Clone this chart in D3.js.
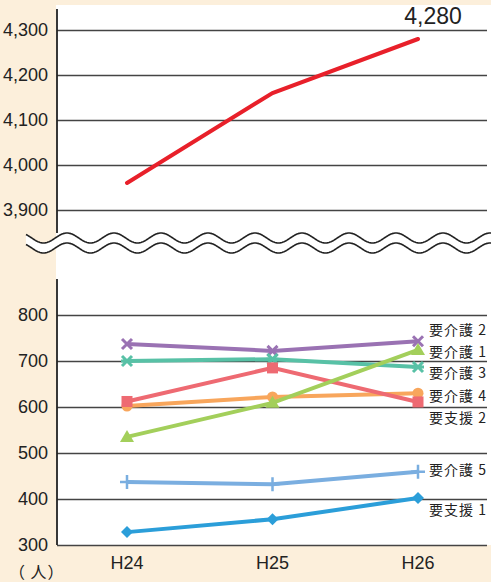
<!DOCTYPE html>
<html><head><meta charset="utf-8">
<script src="https://cdn.jsdelivr.net/npm/d3@7"></script>
<style>body{margin:0;background:#fcefdb}svg{display:block}</style>
</head><body><svg id="c" width="491" height="582"></svg>
<script>
const categories = ["H24","H25","H26"];
const totalValues = [3960, 4160, 4280];
const totalLabel = "4,280";
const upperTicks = [3900, 4000, 4100, 4200, 4300];
const lowerTicks = [300, 400, 500, 600, 700, 800];
const seriesNames = ["要介護 2","要介護 3","要介護 4","要支援 2","要介護 1","要介護 5","要支援 1"];
const seriesValues = [
  [737, 722, 743],
  [700, 704, 687],
  [602, 622, 630],
  [612, 685, 611],
  [535, 609, 724],
  [437, 432, 459],
  [328, 356, 402]
];
const seriesColors = ["#9a72b3","#58c1a6","#f8a65c","#ee6a72","#a3cf5b","#7aaee0","#2b9ed9"];
const seriesMarkers = ["cross","asterisk","circle","square","triangle","plus","diamond"];
const labelDy = [-11, 6, 2.5, 16, 1.5, -2, 12];
const yUnit = "（ 人）";

const svg = d3.select("#c");
const W = 491, H = 582;
const left = 57, right = 487;
const narrow = "'Liberation Sans Narrow','Arial Narrow','Liberation Sans',Arial,sans-serif";
const jp = "'Noto Sans CJK JP','Noto Sans',sans-serif";

svg.append("rect").attr("width", W).attr("height", H).attr("fill", "#fcefdb");
svg.append("rect").attr("x", 56).attr("y", 5).attr("width", W - 56).attr("height", 540).attr("fill", "#fff");

const x = d3.scalePoint().domain(categories).range([127, 418]);
const yTop = d3.scaleLinear().domain([3900, 4300]).range([210, 30]);
const yBot = d3.scaleLinear().domain([300, 800]).range([545, 315]);

function yAxis(scale, ticks) {
  const g = svg.append("g").attr("transform", `translate(${left},0)`)
    .call(d3.axisLeft(scale).tickValues(ticks).tickFormat(d3.format(",")).tickSizeInner(-(right - left)).tickSizeOuter(0).tickPadding(9));
  g.select(".domain").remove();
  g.selectAll(".tick line").attr("stroke", "#444").attr("stroke-width", 1.6);
  g.selectAll(".tick text").attr("font-family", narrow).attr("font-size", 18).attr("fill", "#222");
  return g;
}
yAxis(yTop, upperTicks);
yAxis(yBot, lowerTicks);

svg.append("line").attr("x1", left).attr("x2", left).attr("y1", 9).attr("y2", 233).attr("stroke", "#222").attr("stroke-width", 1.8);
svg.append("line").attr("x1", left).attr("x2", left).attr("y1", 279).attr("y2", 545).attr("stroke", "#222").attr("stroke-width", 1.8);

// wave break
const amp = 5, wl = 47, x0 = 26, x1 = 495;
function wave(c) {
  const pts = [];
  for (let px = x0; px <= x1; px += 1) pts.push([px, c - amp * Math.cos(2 * Math.PI * (px - 67) / wl)]);
  return pts;
}
const topW = wave(238), botW = wave(248);
svg.append("path").attr("d", d3.line()(topW.concat(botW.slice().reverse())) + "Z").attr("fill", "#fff");
svg.append("path").attr("d", d3.line()(topW)).attr("fill", "none").attr("stroke", "#222").attr("stroke-width", 1.6);
svg.append("path").attr("d", d3.line()(botW)).attr("fill", "none").attr("stroke", "#222").attr("stroke-width", 1.6);

// total line
svg.append("path").datum(totalValues)
  .attr("d", d3.line().x((d, i) => x(categories[i])).y(d => yTop(d)))
  .attr("fill", "none").attr("stroke", "#e8202a").attr("stroke-width", 4).attr("stroke-linecap", "round");
svg.append("text").attr("x", x(categories[2]) + 15).attr("y", yTop(totalValues[2]) - 15)
  .attr("text-anchor", "middle").attr("font-family", narrow).attr("font-size", 23).attr("fill", "#222").text(totalLabel);

// series
function marker(g, type, cx, cy, color) {
  const s = 5;
  if (type === "circle") g.append("circle").attr("cx", cx).attr("cy", cy).attr("r", 5.5).attr("fill", color);
  else if (type === "square") g.append("rect").attr("x", cx - 5.5).attr("y", cy - 5.5).attr("width", 11).attr("height", 11).attr("fill", color);
  else if (type === "triangle") g.append("path").attr("d", `M${cx},${cy - 7}L${cx + 7},${cy + 5}L${cx - 7},${cy + 5}Z`).attr("fill", color);
  else if (type === "diamond") g.append("path").attr("d", `M${cx},${cy - 6}L${cx + 6},${cy}L${cx},${cy + 6}L${cx - 6},${cy}Z`).attr("fill", color);
  else if (type === "plus") g.append("path").attr("d", `M${cx},${cy - 7}V${cy + 7}M${cx - 7},${cy}H${cx + 7}`).attr("stroke", color).attr("stroke-width", 2.5);
  else if (type === "cross") g.append("path").attr("d", `M${cx - s},${cy - s}L${cx + s},${cy + s}M${cx + s},${cy - s}L${cx - s},${cy + s}`).attr("stroke", color).attr("stroke-width", 3);
  else if (type === "asterisk") g.append("path").attr("d", `M${cx - s},${cy - s}L${cx + s},${cy + s}M${cx + s},${cy - s}L${cx - s},${cy + s}M${cx - 6},${cy}H${cx + 6}`).attr("stroke", color).attr("stroke-width", 3);
}
seriesValues.forEach((vals, si) => {
  const g = svg.append("g");
  g.append("path").datum(vals)
    .attr("d", d3.line().x((d, i) => x(categories[i])).y(d => yBot(d)))
    .attr("fill", "none").attr("stroke", seriesColors[si]).attr("stroke-width", 4);
  vals.forEach((v, i) => marker(g, seriesMarkers[si], x(categories[i]), yBot(v), seriesColors[si]));
  svg.append("text").attr("x", 429).attr("y", yBot(vals[2]) + labelDy[si]).attr("dy", "0.36em")
    .attr("font-family", jp).attr("font-size", 14).attr("letter-spacing", 1).attr("fill", "#222").text(seriesNames[si]);
});

// x labels
categories.forEach(c => {
  svg.append("text").attr("x", x(c)).attr("y", 569).attr("text-anchor", "middle")
    .attr("font-family", narrow).attr("font-size", 18).attr("fill", "#222").text(c);
});
svg.append("text").attr("x", 9).attr("y", 578).attr("text-anchor", "start")
  .attr("font-family", jp).attr("font-size", 16).attr("letter-spacing", 1).attr("fill", "#222").text(yUnit);
</script></body></html>
